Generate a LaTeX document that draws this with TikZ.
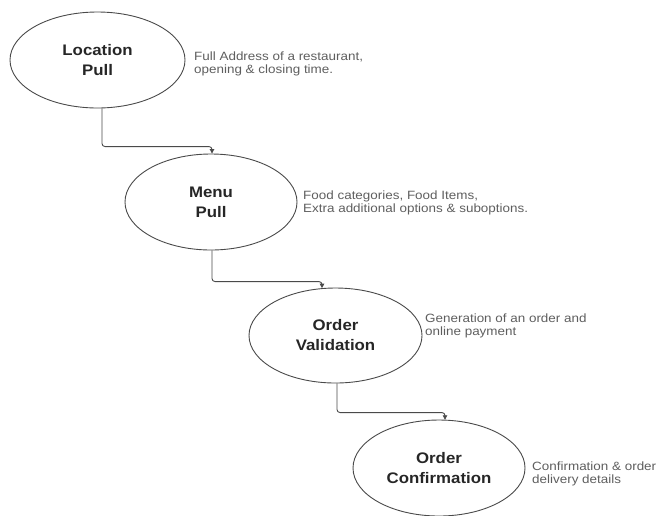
\documentclass[tikz,border=0pt]{standalone}
\usepackage{fontspec}
\setmainfont{Liberation Sans}
\newfontfamily\annotfont[FakeStretch=1.12]{Liberation Sans}
\newfontfamily\labelfont[FakeStretch=1.1]{Liberation Sans}
\usetikzlibrary{arrows.meta,calc,shapes.geometric}
\definecolor{edgegray}{HTML}{4A4A4A}
\definecolor{labeltext}{HTML}{262626}
\definecolor{annottext}{HTML}{5E5E5E}
\tikzset{
  stage/.style={ellipse, draw=edgegray, line width=0.9pt, inner sep=0pt,
    align=center, text=labeltext,
    font=\labelfont\bfseries\fontsize{15.3}{20}\selectfont},
  conn/.style={draw=edgegray, line width=0.9pt, rounded corners=3pt,
    -{Triangle[length=4.5pt,width=4.5pt]}},
  annot/.style={anchor=west, inner sep=0pt, align=left, text=annottext,
    font=\annotfont\fontsize{12}{13}\selectfont},
}
\begin{document}
\begin{tikzpicture}[x=1pt,y=-1pt]
\useasboundingbox (0,0) rectangle (660,515);
\node[stage, minimum width=175pt, minimum height=96pt] (e1) at (97.5,60) {Location\\Pull};
\node[stage, minimum width=172pt, minimum height=96pt] (e2) at (211,202) {Menu\\Pull};
\node[stage, minimum width=173pt, minimum height=95pt] (e3) at (335.5,335.5) {Order\\Validation};
\node[stage, minimum width=172pt, minimum height=96pt] (e4) at (439,468) {Order\\Confirmation};

\node[annot] (a1) at (194,64) {Full Address of a restaurant,\\opening \& closing time.};
\node[annot] (a2) at (303,202.5) {Food categories, Food Items,\\Extra additional options \& suboptions.};
\node[annot] (a3) at (425,325.5) {Generation of an order and\\online payment};
\node[annot] (a4) at (532,473.5) {Confirmation \& order\\delivery details};

\draw[conn] ($(e1.south)+(4.5,0)$) |- ($(e2.north)+(1,-7)$) -- ($(e2.north)+(1,0)$);
\draw[conn] ($(e2.south)+(1,0)$) |- ($(e3.north)+(-13.5,-6)$) -- ($(e3.north)+(-13.5,0.6)$);
\draw[conn] ($(e3.south)+(1.5,0)$) |- ($(e4.north)+(6,-7)$) -- ($(e4.north)+(6,0.2)$);
\end{tikzpicture}
\end{document}
